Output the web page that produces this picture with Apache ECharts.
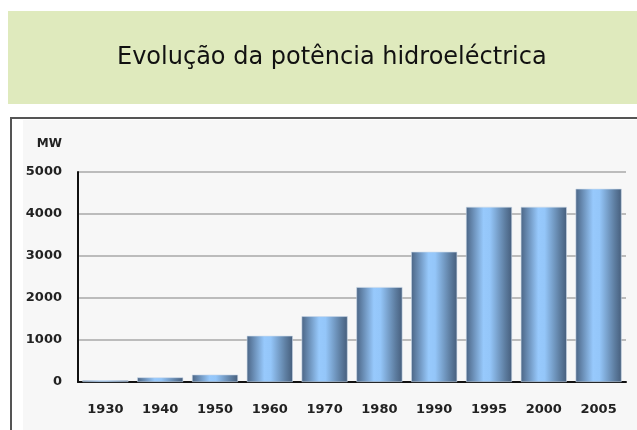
<!DOCTYPE html>
<html>
<head>
<meta charset="utf-8">
<script src="https://cdn.jsdelivr.net/npm/echarts@6/dist/echarts.min.js"></script>
<style>
  html, body { margin: 0; padding: 0; background: #fff; }
  #main { width: 637px; height: 430px; }
</style>
</head>
<body>
<div id="main"></div>
<script>
// dados
var anos = ['1930', '1940', '1950', '1960', '1970', '1980', '1990', '1995', '2000', '2005'];
var potencia = [40, 110, 175, 1100, 1565, 2260, 3100, 4170, 4170, 4600];  // MW
var tituloTexto = 'Evolução da potência hidroeléctrica';

var myChart = echarts.init(document.getElementById('main'), null, {renderer: 'canvas'});

var barColor = new echarts.graphic.LinearGradient(0, 0, 1, 0, [
    {offset: 0, color: '#4b6585'},
    {offset: 0.38, color: '#97c9fc'},
    {offset: 0.52, color: '#94c6f9'},
    {offset: 0.85, color: '#5d7da0'},
    {offset: 1, color: '#465e7c'}
]);

myChart.setOption({
    animation: false,
    backgroundColor: '#fff',
    graphic: [
        {  // faixa verde do título
            type: 'rect', z: -10, silent: true,
            shape: {x: 8, y: 11, width: 640, height: 93},
            style: {fill: '#dfeabd'}
        },
        {  // caixa do gráfico
            type: 'rect', z: -10, silent: true,
            shape: {x: 11, y: 118, width: 640, height: 330},
            style: {fill: '#fff', stroke: '#555', lineWidth: 2}
        },
        {
            type: 'rect', z: -9, silent: true,
            shape: {x: 23, y: 120, width: 620, height: 320},
            style: {fill: '#f7f7f7'}
        }
    ],
    title: {
        text: tituloTexto,
        left: 112,
        top: 41,
        textStyle: {
            fontFamily: 'DejaVu Sans',
            fontSize: 24,
            fontWeight: 'normal',
            color: '#111'
        }
    },
    grid: {
        left: 78,
        right: 11,
        top: 172,
        bottom: 48
    },
    xAxis: {
        type: 'category',
        data: anos,
        axisLine: {lineStyle: {color: '#111', width: 2}},
        axisTick: {show: false},
        axisLabel: {
            margin: 21,
            fontFamily: 'DejaVu Sans',
            fontSize: 13,
            fontWeight: 'bold',
            color: '#222'
        }
    },
    yAxis: {
        type: 'value',
        min: 0,
        max: 5000,
        interval: 1000,
        name: 'MW',
        nameGap: 22,
        nameTextStyle: {
            fontFamily: 'DejaVu Sans',
            fontSize: 12,
            fontWeight: 'bold',
            color: '#222',
            align: 'right',
            padding: [0, 16, 0, 0]
        },
        axisLine: {show: true, lineStyle: {color: '#111', width: 2}},
        axisTick: {show: false},
        splitLine: {lineStyle: {color: '#a8a8a8', width: 1.5}},
        axisLabel: {
            margin: 16,
            formatter: function (v) { return String(v); },
            fontFamily: 'DejaVu Sans',
            fontSize: 13,
            fontWeight: 'bold',
            color: '#222'
        }
    },
    series: [{
        name: 'Potência',
        type: 'bar',
        data: potencia,
        barCategoryGap: '16%',
        itemStyle: {
            color: barColor,
            borderColor: '#c9d9ea',
            borderWidth: 0.6
        }
    }]
});

window.onresize = myChart.resize;
</script>
</body>
</html>
